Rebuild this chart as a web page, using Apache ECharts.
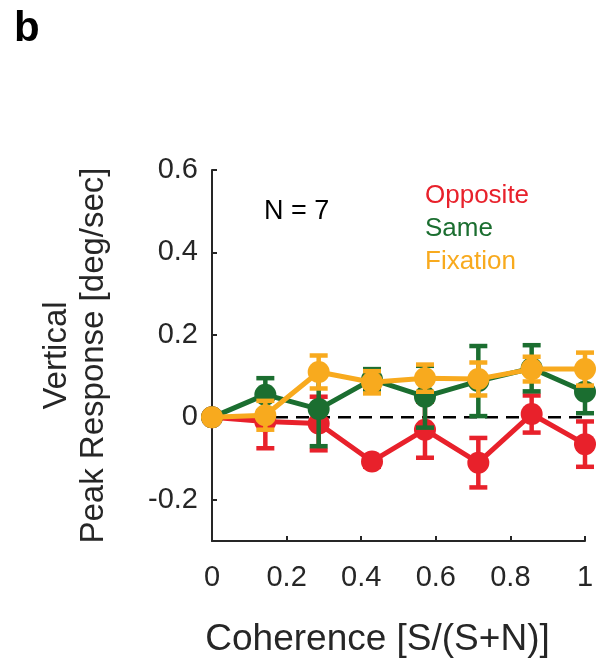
<!DOCTYPE html>
<html>
<head>
<meta charset="utf-8">
<script src="https://cdn.jsdelivr.net/npm/echarts@6/dist/echarts.min.js"></script>
<style>
html, body { margin: 0; padding: 0; background: #fff; }
#chart { width: 597px; height: 666px; }
</style>
</head>
<body>
<div id="chart"></div>
<script>
// coherence levels (x)
var coherence = [0, 0.143, 0.286, 0.429, 0.571, 0.714, 0.857, 1];
// mean and error (deg/sec)
var oppositeMean = [0, -0.01, -0.015, -0.107, -0.03, -0.11, 0.008, -0.065];
var oppositeErr = [0, 0.065, 0.065, 0.013, 0.068, 0.06, 0.045, 0.055];
var sameMean = [0, 0.055, 0.02, 0.092, 0.05, 0.088, 0.119, 0.062];
var sameErr = [0, 0.04, 0.09, 0.025, 0.075, 0.085, 0.056, 0.052];
var fixMean = [0, 0.005, 0.11, 0.085, 0.095, 0.093, 0.117, 0.117];
var fixErr = [0, 0.035, 0.04, 0.027, 0.033, 0.04, 0.03, 0.04];
var zeroX = [0, 1];
var zeroY = [0, 0];
var yTicks = [-0.2, 0, 0.2, 0.4, 0.6];

var RED = '#e8212b';
var GREEN = '#1b6e30';
var ORANGE = '#f8aa1e';
var AXIS = '#262626';
var FONT = '"Liberation Sans", Arial, sans-serif';

var mychart = echarts.init(document.getElementById('chart'));

function pairs(xs, ys) {
    var out = [];
    for (var i = 0; i < xs.length; i++) {
        out.push([xs[i], ys[i]]);
    }
    return out;
}

function errData(mean, err) {
    var out = [];
    for (var i = 0; i < coherence.length; i++) {
        out.push([coherence[i], mean[i] - err[i], mean[i] + err[i]]);
    }
    return out;
}

function errSeries(name, mean, err, color, z) {
    return {
        name: name,
        type: 'custom',
        z: z,
        data: errData(mean, err),
        renderItem: function (params, api) {
            var lo = api.coord([api.value(0), api.value(1)]);
            var hi = api.coord([api.value(0), api.value(2)]);
            var w = 9;
            var st = {stroke: color, lineWidth: 4.5};
            return {
                type: 'group',
                children: [
                    {type: 'line', shape: {x1: lo[0], y1: lo[1], x2: hi[0], y2: hi[1]}, style: st},
                    {type: 'line', shape: {x1: lo[0] - w, y1: lo[1], x2: lo[0] + w, y2: lo[1]}, style: st},
                    {type: 'line', shape: {x1: hi[0] - w, y1: hi[1], x2: hi[0] + w, y2: hi[1]}, style: st}
                ]
            };
        },
        silent: true
    };
}

function meanSeries(name, mean, color, z) {
    return {
        name: name,
        type: 'line',
        z: z,
        data: pairs(coherence, mean),
        symbol: 'circle',
        symbolSize: 22,
        lineStyle: {color: color, width: 5},
        itemStyle: {color: color},
        animation: false
    };
}

var option = {
    animation: false,
    title: {
        text: 'b',
        left: 9,
        top: 3,
        textStyle: {fontFamily: FONT, fontSize: 42, fontWeight: 'bold', color: '#000'}
    },
    legend: {
        orient: 'vertical',
        left: 415,
        top: 174,
        icon: 'none',
        itemWidth: 0,
        itemGap: 0,
        selectedMode: false,
        data: [
            {name: 'Opposite', textStyle: {color: RED}},
            {name: 'Same', textStyle: {color: GREEN}},
            {name: 'Fixation', textStyle: {color: ORANGE}}
        ],
        textStyle: {fontFamily: FONT, fontSize: 26, lineHeight: 33}
    },
    graphic: [
        {
            type: 'text',
            left: 264,
            top: 198,
            style: {text: 'N = 7', fontFamily: FONT, fontSize: 27, fill: '#000'}
        }
    ],
    grid: {left: 212, right: 12, top: 170, bottom: 125},
    xAxis: {
        type: 'value',
        min: 0,
        max: 1,
        interval: 0.2,
        name: 'Coherence [S/(S+N)]',
        nameLocation: 'middle',
        nameGap: 80,
        nameTextStyle: {fontFamily: FONT, fontSize: 37, color: AXIS, padding: [0, 42, 0, 0]},
        axisLine: {onZero: false, lineStyle: {color: AXIS, width: 2}},
        axisTick: {inside: true, length: 5, lineStyle: {color: AXIS, width: 2}},
        axisLabel: {fontFamily: FONT, fontSize: 29, color: AXIS, margin: 22},
        splitLine: {show: false}
    },
    yAxis: {
        type: 'value',
        min: -0.3,
        max: 0.6,
        interval: 0.1,
        name: 'Vertical\nPeak Response [deg/sec]',
        nameLocation: 'middle',
        nameGap: 100,
        nameRotate: 90,
        nameTextStyle: {fontFamily: FONT, fontSize: 33, color: AXIS, lineHeight: 37, align: 'center'},
        axisLine: {show: true, lineStyle: {color: AXIS, width: 2}},
        axisTick: {inside: true, length: 5, lineStyle: {color: AXIS, width: 2}, customValues: yTicks},
        axisLabel: {fontFamily: FONT, fontSize: 29, color: AXIS, margin: 14, customValues: yTicks},
        splitLine: {show: false}
    },
    series: [
        {
            name: 'zero',
            type: 'line',
            z: 1,
            data: pairs(zeroX, zeroY),
            symbol: 'none',
            lineStyle: {color: '#000', width: 2.5, type: [13, 8]},
            silent: true
        },
        errSeries('Opposite', oppositeMean, oppositeErr, RED, 2),
        meanSeries('Opposite', oppositeMean, RED, 3),
        errSeries('Same', sameMean, sameErr, GREEN, 4),
        meanSeries('Same', sameMean, GREEN, 5),
        errSeries('Fixation', fixMean, fixErr, ORANGE, 6),
        meanSeries('Fixation', fixMean, ORANGE, 7)
    ]
};
mychart.setOption(option);
</script>
</body>
</html>
